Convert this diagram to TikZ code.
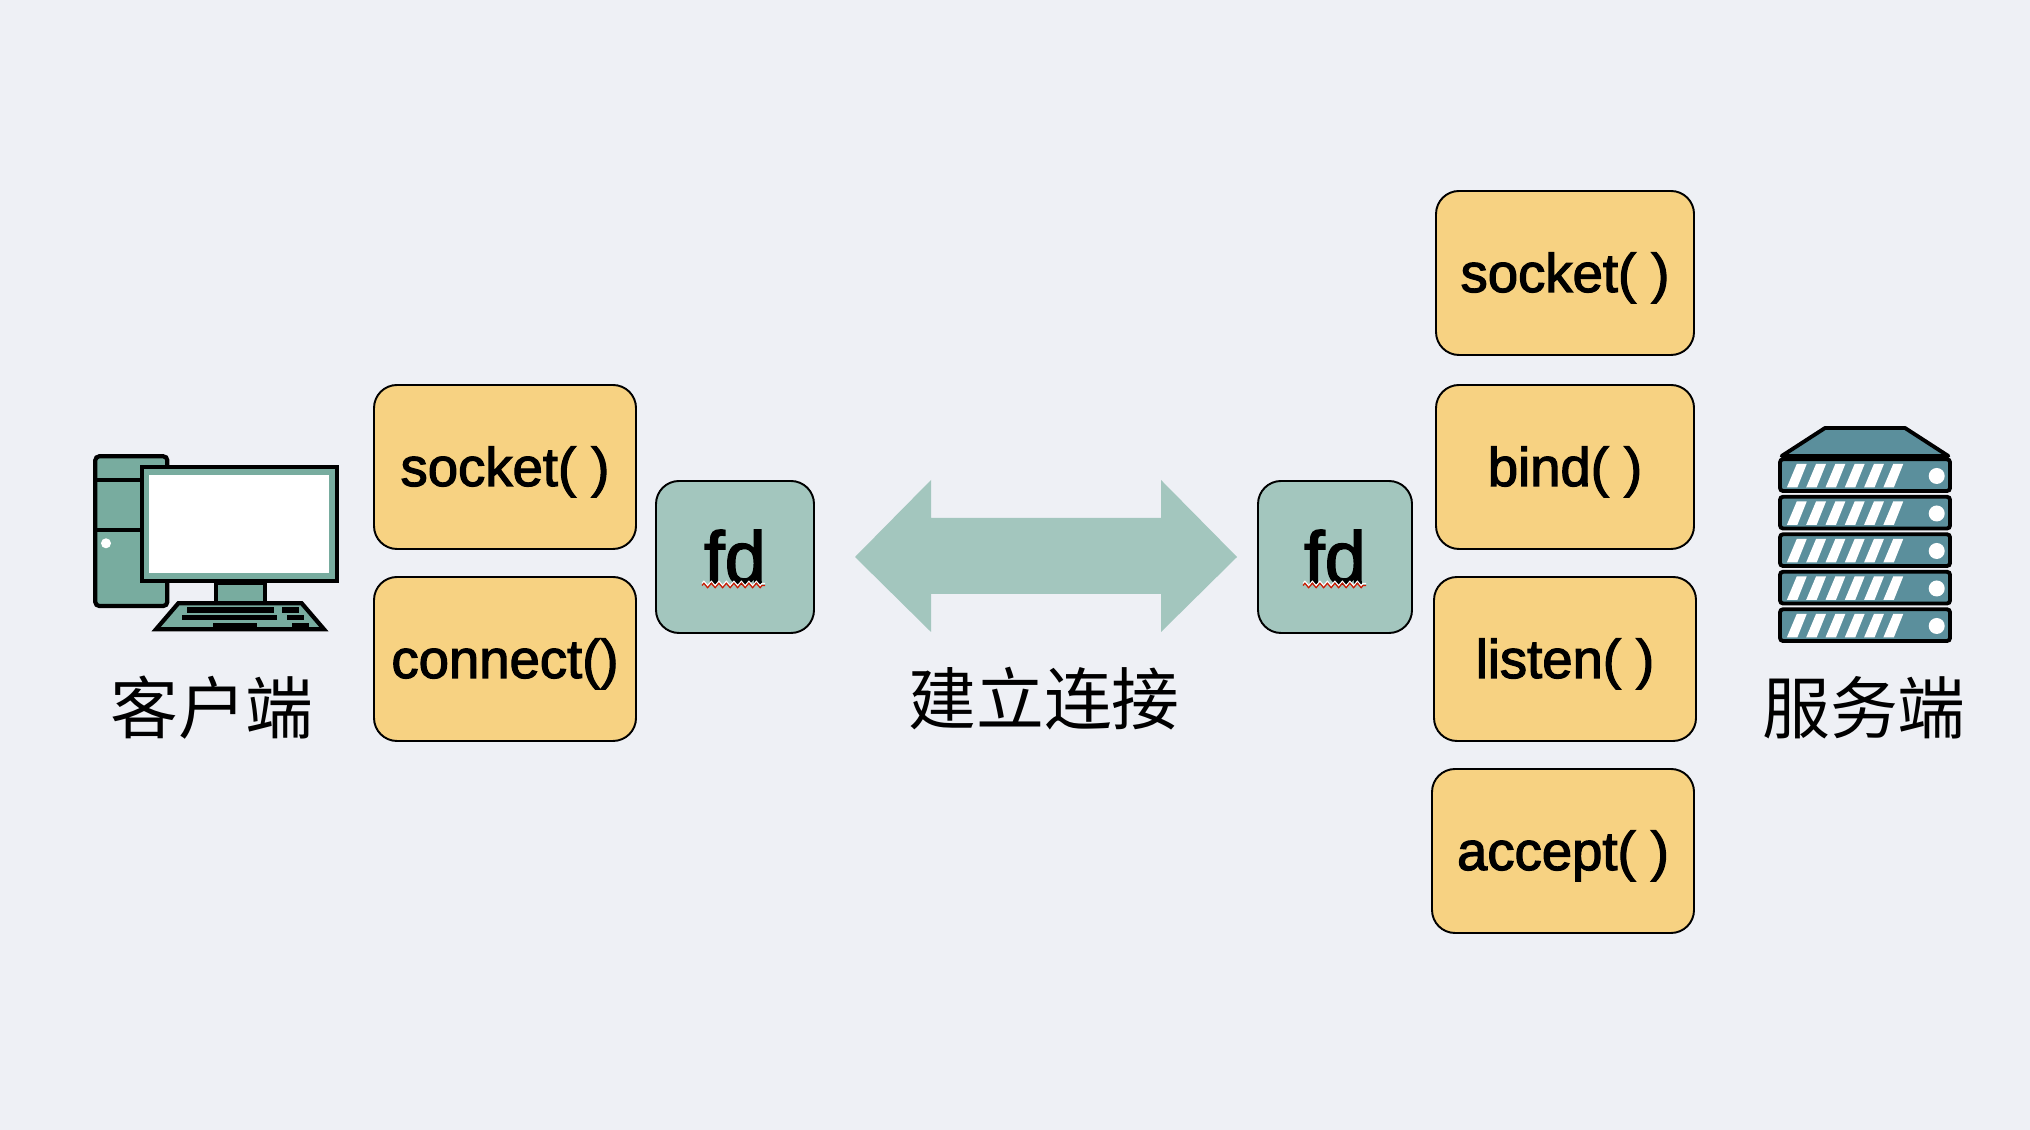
\documentclass[tikz,border=0pt]{standalone}
\usepackage{fontspec}
\setmainfont{Liberation Sans}
\newfontfamily\boxfont[RawFeature={embolden=2.2}]{Liberation Sans}
\newfontfamily\cjk{Noto Sans CJK SC}
\usetikzlibrary{decorations.pathmorphing}
\definecolor{bgcol}{HTML}{EEF0F5}
\definecolor{boxcol}{HTML}{F7D282}
\definecolor{fdcol}{HTML}{A3C6BE}
\definecolor{pccol}{HTML}{78AC9F}
\definecolor{srvcol}{HTML}{5B8F9C}
\tikzset{
	callbox/.style={draw=black, line width=0.55pt, fill=boxcol, rounded corners=0.23cm, minimum height=1.64cm, inner sep=0pt, text height=0.5cm, text depth=0.12cm, font=\boxfont\fontsize{15.5}{18}\selectfont},
	fdbox/.style={draw=black, line width=0.55pt, fill=fdcol, rounded corners=0.23cm, minimum width=1.58cm, minimum height=1.52cm, inner sep=0pt, font=\boxfont\fontsize{21}{24}\selectfont},
	sidelabel/.style={font=\cjk\fontsize{19.3}{22}\selectfont, inner sep=0pt},
	squiggle/.style={decorate, decoration={zigzag, segment length=0.075cm, amplitude=0.022cm}, line width=0.35pt},
}
\begin{document}
\begin{tikzpicture}
	\fill[bgcol] (0,0) rectangle (20.3,-11.3);
	\useasboundingbox (0,0) rectangle (20.3,-11.3);

	\fill[fdcol] (8.55,-5.57) -- (9.31,-4.80) -- (9.31,-5.18) -- (11.61,-5.18) -- (11.61,-4.80) -- (12.37,-5.57) -- (11.61,-6.32) -- (11.61,-5.94) -- (9.31,-5.94) -- (9.31,-6.32) -- cycle;
	\node[sidelabel] (linklabel) at (10.44,-6.99) {建立连接};

	\node[callbox, minimum width=2.62cm] (csocket) at (5.05,-4.67) {socket( )};
	\node[callbox, minimum width=2.62cm] (cconnect) at (5.05,-6.59) {connect()};
	\node[fdbox] (cfd) at (7.35,-5.57) {fd};

	\node[fdbox, minimum width=1.54cm] (sfd) at (13.35,-5.57) {fd};
	\node[callbox, minimum width=2.58cm] (ssocket) at (15.65,-2.73) {socket( )};
	\node[callbox, minimum width=2.58cm] (sbind) at (15.65,-4.67) {bind( )};
	\node[callbox, minimum width=2.62cm] (slisten) at (15.65,-6.59) {listen( )};
	\node[callbox, minimum width=2.62cm] (saccept) at (15.63,-8.51) {accept( )};

	\foreach \x in {7.02,13.03} {
		\draw[white, squiggle] (\x,-5.835) -- ++(0.63,0);
		\draw[red!75!black!80!orange, squiggle] (\x,-5.855) -- ++(0.63,0);
	}

	\draw[line width=1.2pt, fill=pccol, rounded corners=0.04cm] (0.953,-4.563) rectangle (1.673,-6.06);
	\draw[line width=1.2pt] (0.953,-4.80) -- (1.6,-4.80);
	\draw[line width=1.2pt] (0.953,-5.30) -- (1.6,-5.30);
	\fill[white] (1.06,-5.433) circle (0.05);
	\draw[line width=1.2pt, fill=pccol] (1.423,-4.673) rectangle (3.367,-5.81);
	\fill[white] (1.493,-4.75) rectangle (3.287,-5.733);
	\draw[line width=1.2pt, fill=pccol] (2.157,-5.83) rectangle (2.65,-6.033);
	\draw[line width=1.2pt, fill=pccol, line join=miter] (1.783,-6.033) -- (3.017,-6.033) -- (3.24,-6.293) -- (1.56,-6.293) -- cycle;
	\fill (1.867,-6.073) rectangle (2.74,-6.127);
	\fill (2.817,-6.073) rectangle (2.99,-6.127);
	\fill (1.817,-6.15) rectangle (2.767,-6.203);
	\fill (2.867,-6.15) rectangle (3.04,-6.203);
	\fill (2.133,-6.227) rectangle (2.573,-6.28);
	\fill (2.917,-6.227) rectangle (3.09,-6.28);
	\node[sidelabel] (clientlabel) at (2.12,-7.08) {客户端};

	\draw[line width=1.1pt, fill=srvcol, line join=round] (18.25,-4.28) -- (19.05,-4.28) -- (19.483,-4.56) -- (17.817,-4.56) -- cycle;
	\foreach \r in {0,...,4} {
		\begin{scope}[yshift=-\r*0.375cm]
			\draw[line width=1.1pt, fill=srvcol, rounded corners=0.03cm] (17.8,-4.593) rectangle (19.5,-4.91);
			\foreach \s in {0,...,5}
				\fill[white] (17.967+\s*0.193,-4.64) -- ++(0.1,0) -- ++(-0.093,-0.233) -- ++(-0.105,0) -- cycle;
			\fill[white] (19.367,-4.76) circle (0.08);
		\end{scope}
	}
	\node[sidelabel] (serverlabel) at (18.64,-7.08) {服务端};
\end{tikzpicture}
\end{document}
